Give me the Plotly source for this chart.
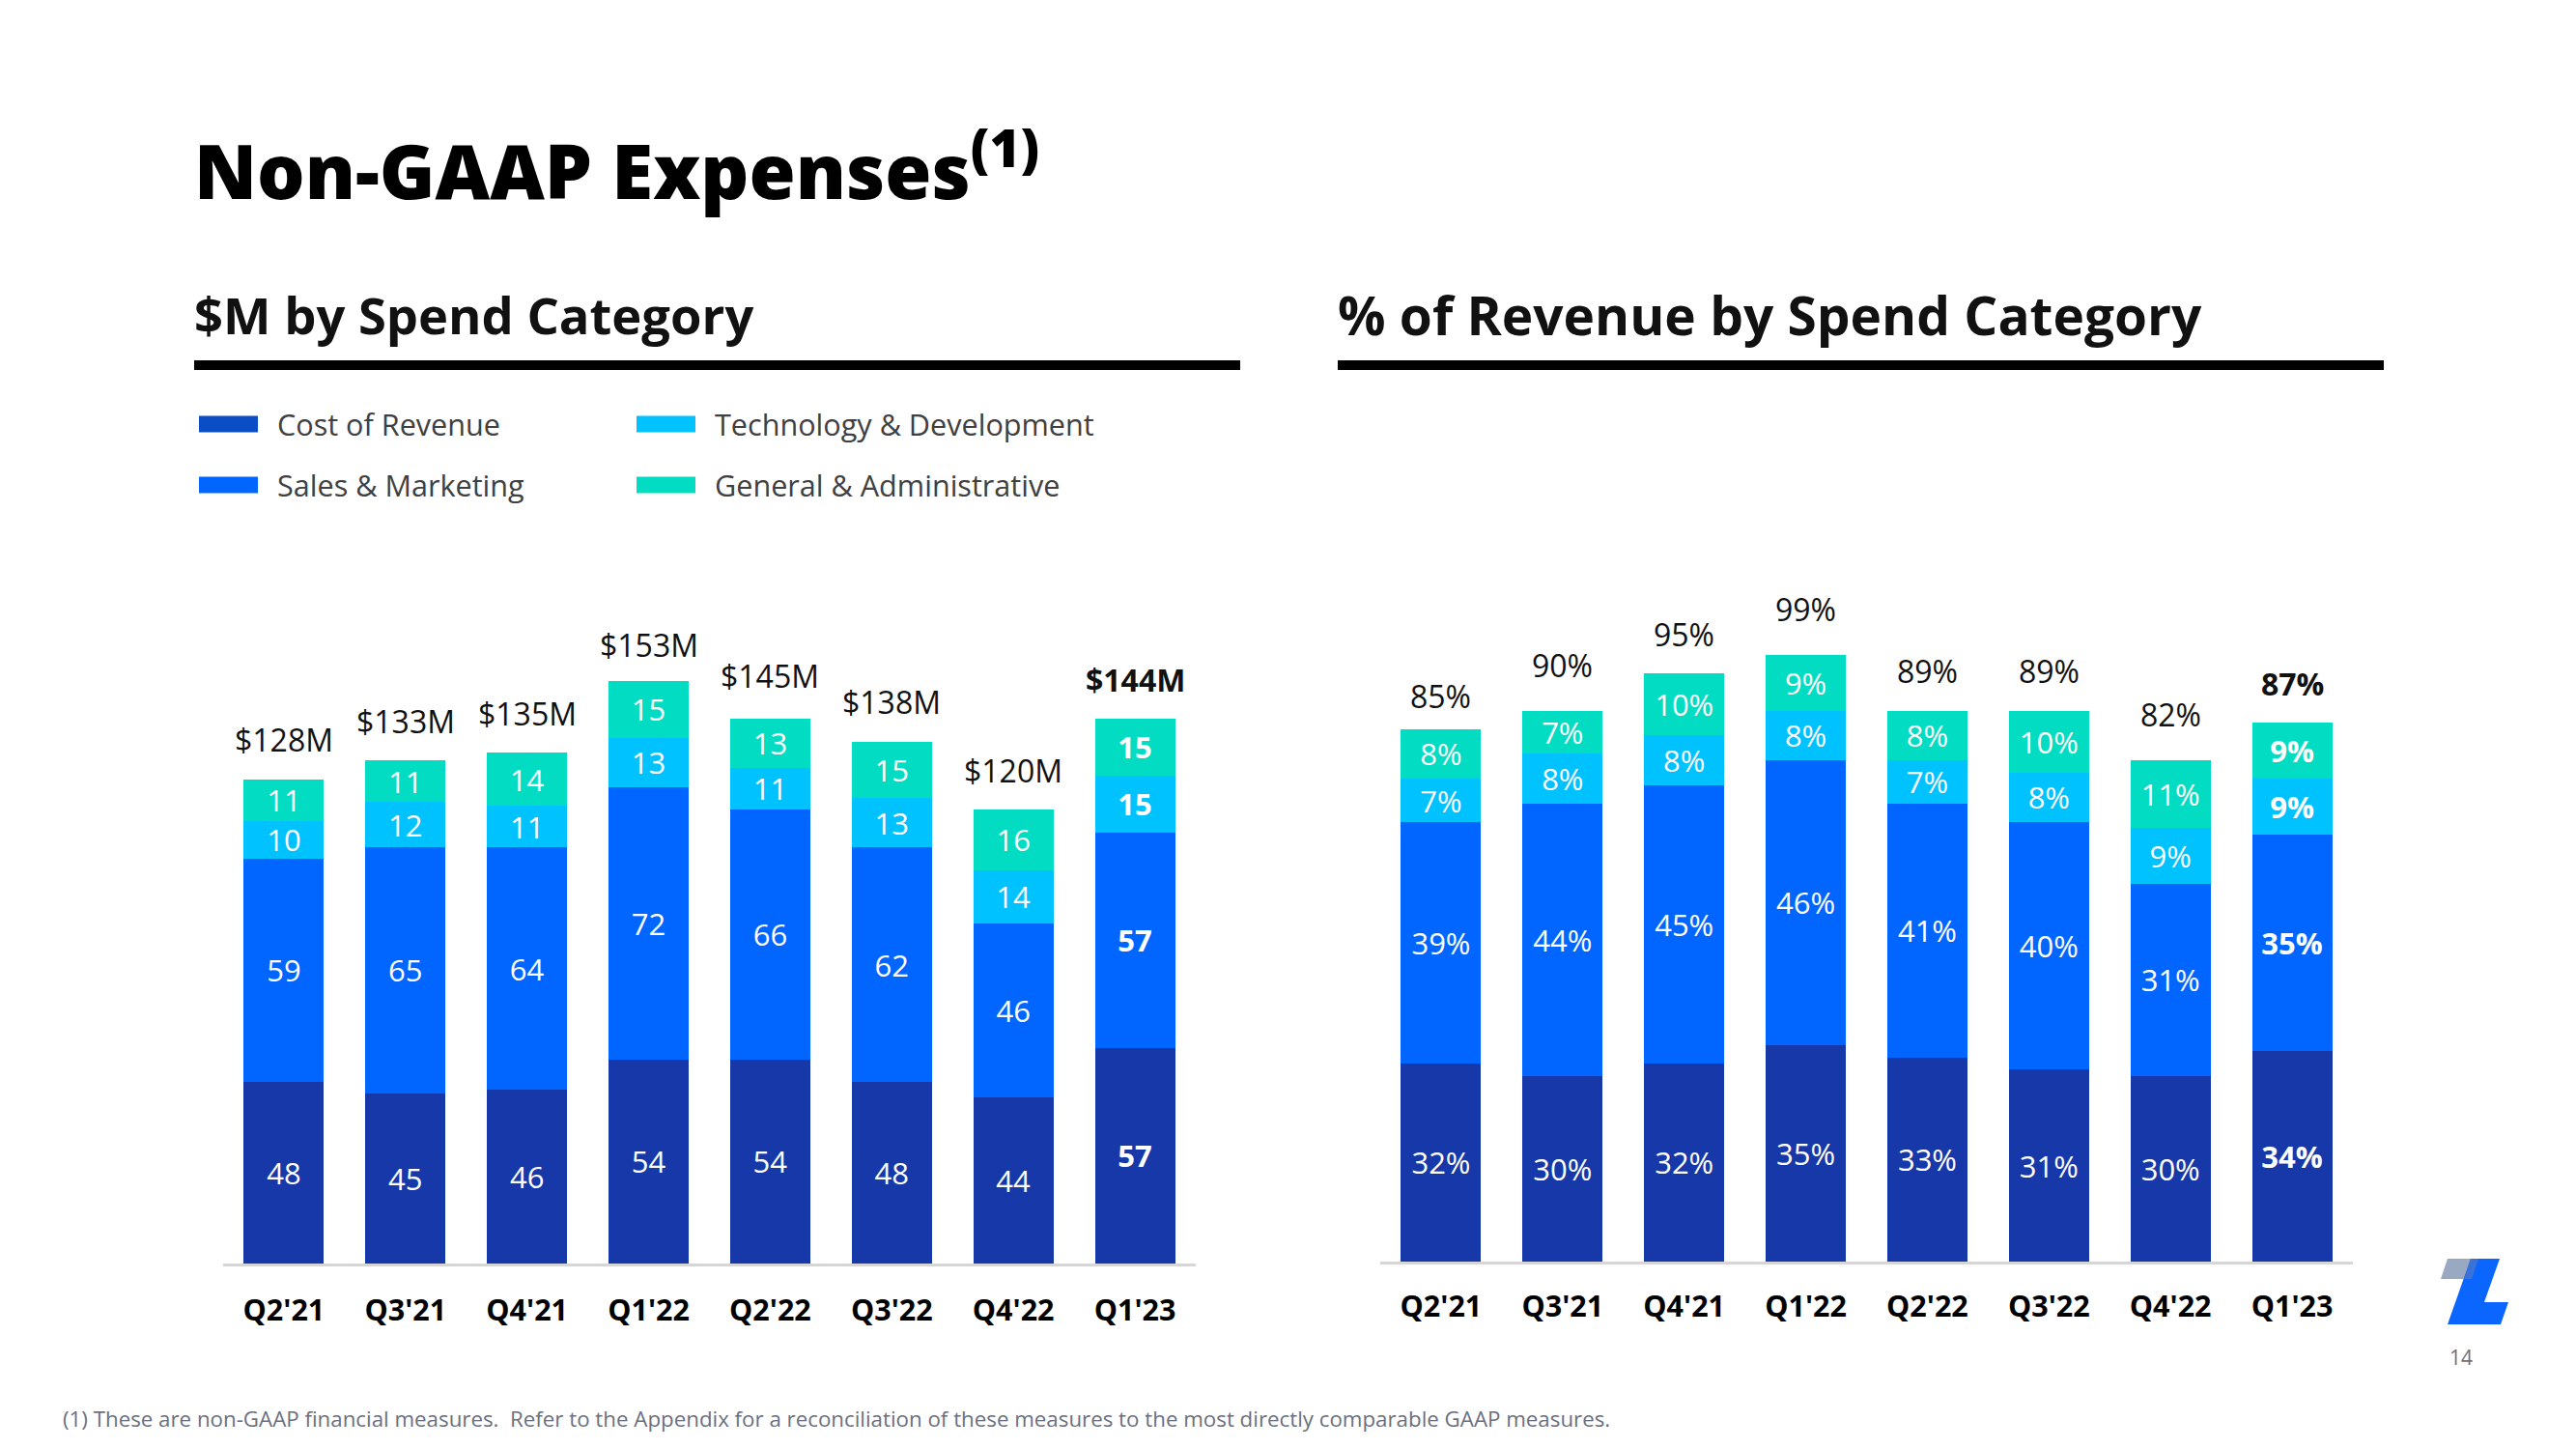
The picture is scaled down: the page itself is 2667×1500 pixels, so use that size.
import plotly.graph_objects as go

# ---------------- data ----------------
quarters = ["Q2'21", "Q3'21", "Q4'21", "Q1'22", "Q2'22", "Q3'22", "Q4'22", "Q1'23"]

series_names = ["Cost of Revenue", "Sales & Marketing", "Technology & Development", "General & Administrative"]

# $M by spend category
cost_m = [48, 45, 46, 54, 54, 48, 44, 57]
sales_m = [59, 65, 64, 72, 66, 62, 46, 57]
tech_m = [10, 12, 11, 13, 11, 13, 14, 15]
ga_m = [11, 11, 14, 15, 13, 15, 16, 15]
total_m = [128, 133, 135, 153, 145, 138, 120, 144]

# % of revenue by spend category
cost_pct = [32, 30, 32, 35, 33, 31, 30, 34]
sales_pct = [39, 44, 45, 46, 41, 40, 31, 35]
tech_pct = [7, 8, 8, 8, 7, 8, 9, 9]
ga_pct = [8, 7, 10, 9, 8, 10, 11, 9]
total_pct = [85, 90, 95, 99, 89, 89, 82, 87]

# ---------------- style ----------------
FONT = "Open Sans"
bar_colors = ["#1638A8", "#0066FF", "#00C2FF", "#02DCC2"]
legend_colors = ["#0A4DC4", "#0066FF", "#00C2FF", "#02DCC2"]
W, H = 2667, 1500
OFF = 8  # page body margin


def px(x):
    return (x - OFF) / W


def py(y):
    return 1 - (y - OFF) / H


last = len(quarters) - 1


def fmt(v, pattern, i):
    s = pattern.format(v)
    return f"<b>{s}</b>" if i == last else s


fig = go.Figure()

left_series = [cost_m, sales_m, tech_m, ga_m]
right_series = [cost_pct, sales_pct, tech_pct, ga_pct]

for name, vals, col in zip(series_names, left_series, bar_colors):
    fig.add_trace(go.Bar(
        x=quarters, y=vals, name=name, width=0.66,
        marker=dict(color=col, line=dict(width=0)),
        text=[fmt(v, "{}", i) for i, v in enumerate(vals)],
        textposition="inside", insidetextanchor="middle", textangle=0,
        textfont=dict(color="white", size=31, family=FONT),
        xaxis="x", yaxis="y", showlegend=False, hoverinfo="skip",
    ))

for name, vals, col in zip(series_names, right_series, bar_colors):
    fig.add_trace(go.Bar(
        x=quarters, y=vals, name=name, width=0.66,
        marker=dict(color=col, line=dict(width=0)),
        text=[fmt(v, "{}%", i) for i, v in enumerate(vals)],
        textposition="inside", insidetextanchor="middle", textangle=0,
        textfont=dict(color="white", size=31, family=FONT),
        xaxis="x2", yaxis="y2", showlegend=False, hoverinfo="skip",
    ))

annotations = []
for i, (q, t) in enumerate(zip(quarters, total_m)):
    annotations.append(dict(
        x=q, y=t, xref="x", yref="y", text=fmt(t, "${}M", i), showarrow=False,
        yanchor="middle", yshift=41, font=dict(family=FONT, size=32, color="#111111"),
    ))
for i, (q, t) in enumerate(zip(quarters, total_pct)):
    annotations.append(dict(
        x=q, y=t, xref="x2", yref="y2", text=fmt(t, "{}%", i), showarrow=False,
        yanchor="middle", yshift=41, font=dict(family=FONT, size=32, color="#111111"),
    ))

# Titles
annotations.append(dict(
    x=px(199), y=py(172), xref="paper", yref="paper", xanchor="left", yanchor="middle",
    text="Non-GAAP Expenses<sup>(1)</sup>", showarrow=False,
    font=dict(family=FONT, size=78, color="#000000", weight=800),
))
annotations.append(dict(
    x=px(199), y=py(326), xref="paper", yref="paper", xanchor="left", yanchor="middle",
    text="$M by Spend Category", showarrow=False,
    font=dict(family=FONT, size=52.5, color="#111111", weight=700),
))
annotations.append(dict(
    x=px(1383), y=py(326), xref="paper", yref="paper", xanchor="left", yanchor="middle",
    text="% of Revenue by Spend Category", showarrow=False,
    font=dict(family=FONT, size=55, color="#111111", weight=700),
))

# Footnote and page number
annotations.append(dict(
    x=px(63), y=py(1468), xref="paper", yref="paper", xanchor="left", yanchor="middle",
    text="(1) These are non-GAAP financial measures.  Refer to the Appendix for a reconciliation of these measures to the most directly comparable GAAP measures.",
    showarrow=False, font=dict(family=FONT, size=22.3, color="#6B7080"),
))
annotations.append(dict(
    x=px(2548), y=py(1405), xref="paper", yref="paper", xanchor="center", yanchor="middle",
    text="14", showarrow=False, font=dict(family=FONT, size=21, color="#707070"),
))

shapes = []
# heavy rules under sub-headings
for x0, x1 in [(201, 1284), (1385, 2468)]:
    shapes.append(dict(type="rect", xref="paper", yref="paper", x0=px(x0), x1=px(x1),
                       y0=py(383), y1=py(373), fillcolor="#000000", line=dict(width=0)))

# custom legend (2 x 2 grid)
legend_pos = [(206, 439), (206, 502), (659, 439), (659, 502)]
for name, col, (lx, ly) in zip(series_names, legend_colors, legend_pos):
    shapes.append(dict(type="rect", xref="paper", yref="paper", x0=px(lx), x1=px(lx + 61),
                       y0=py(ly + 8.5), y1=py(ly - 8.5), fillcolor=col, line=dict(width=0)))
    annotations.append(dict(
        x=px(lx + 79), y=py(ly), xref="paper", yref="paper", xanchor="left", yanchor="middle",
        text=name, showarrow=False, font=dict(family=FONT, size=30.6, color="#404040"),
    ))


# logo
def path(pts):
    return "M " + " L ".join(f"{px(x)},{py(y)}" for x, y in pts) + " Z"


shapes.append(dict(type="path", xref="paper", yref="paper",
                   path=path([(2534, 1303), (2566, 1303), (2559, 1324), (2527, 1324)]),
                   fillcolor="#9AA9C2", line=dict(width=0)))
shapes.append(dict(type="path", xref="paper", yref="paper",
                   path=path([(2558, 1303), (2588, 1303), (2572, 1348), (2597, 1348),
                              (2589, 1371), (2534, 1371)]),
                   fillcolor="#0A66FF", line=dict(width=0)))
shapes.append(dict(type="path", xref="paper", yref="paper",
                   path=path([(2558, 1303), (2566, 1303), (2559, 1324), (2551, 1324)]),
                   fillcolor="#3A72D6", line=dict(width=0)))

xaxis_common = dict(
    type="category", range=[-0.5, 7.5], showgrid=False, zeroline=False,
    showline=True, linecolor="#D6D6D6", linewidth=3, ticks="",
    tickfont=dict(family=FONT, size=30.5, color="#000000", weight=700),
    fixedrange=True,
)
yaxis_common = dict(showgrid=False, zeroline=False, showticklabels=False, showline=False,
                    fixedrange=True)

fig.update_layout(
    width=W, height=H, autosize=False,
    margin=dict(l=0, r=0, t=0, b=0),
    paper_bgcolor="white", plot_bgcolor="white",
    barmode="stack", showlegend=False,
    uniformtext=dict(minsize=31, mode="show"),
    xaxis=dict(domain=[px(231), px(1238)], anchor="y", ticklabelstandoff=19, **xaxis_common),
    yaxis=dict(domain=[py(1308), py(603)], range=[0, 180], anchor="x", **yaxis_common),
    xaxis2=dict(domain=[px(1429), px(2436)], anchor="y2", ticklabelstandoff=17, **xaxis_common),
    yaxis2=dict(domain=[py(1306), py(601)], range=[0, 110], anchor="x2", **yaxis_common),
    annotations=annotations,
    shapes=shapes,
)

fig.write_html("out.html")
